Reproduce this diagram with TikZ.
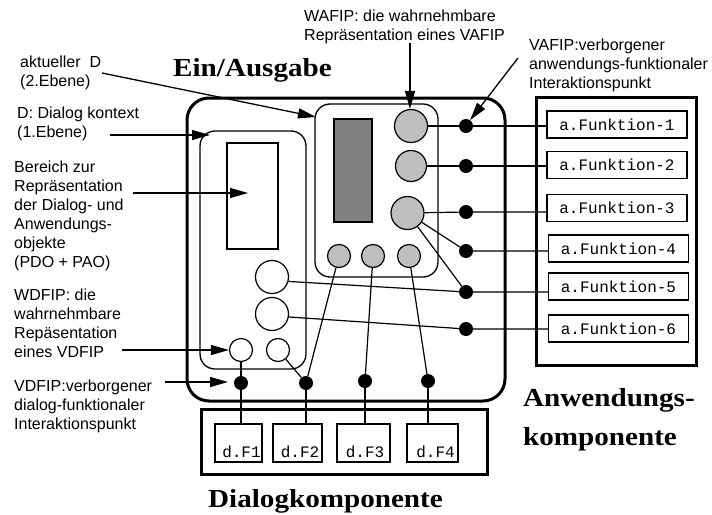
\documentclass[tikz,border=0pt]{standalone}
\usepackage{fontspec}
\setmainfont{Liberation Serif}
\newfontfamily\lblfont{Liberation Sans}
\newfontfamily\monofont{Liberation Mono}
\usetikzlibrary{arrows.meta}
\tikzset{
  thickbox/.style={draw, line width=3pt, inner sep=0pt},
  innerbox/.style={draw, line width=1.3pt, rounded corners=15pt, inner sep=0pt},
  plainbox/.style={draw, line width=1.3pt, inner sep=0pt},
  gcirc/.style={circle, draw, line width=1.2pt, fill=gray!50, inner sep=0pt},
  wcirc/.style={circle, draw, line width=1.2pt, fill=white, inner sep=0pt},
  vdot/.style={circle, fill=black, minimum size=14pt, inner sep=0pt},
  fbox/.style={draw, line width=1.3pt, font=\monofont\fontsize{16}{19}\selectfont, minimum width=140pt, minimum height=27pt, inner sep=0pt},
  dbox/.style={draw, line width=1.3pt, minimum height=38pt, inner sep=0pt},
  mono/.style={font=\monofont\fontsize{16}{19}\selectfont, inner sep=0pt},
  lbl/.style={font=\lblfont\fontsize{16}{19}\selectfont, align=left, anchor=north west, inner sep=0pt},
  title/.style={font=\bfseries\fontsize{26}{30}\selectfont, inner sep=0pt},
  conn/.style={line width=1.2pt},
  arr/.style={line width=1.3pt, -{Triangle[length=18pt,width=10pt]}},
}
\newcommand{\wide}[1]{\scalebox{1.12}[1]{#1}}
\begin{document}
\begin{tikzpicture}[x=1pt,y=-1pt]
\useasboundingbox (0,0) rectangle (712,514);

% main frames
\node[thickbox, rounded corners=22pt, minimum width=318pt, minimum height=303pt] (outer) at (346,249.5) {};
\node[innerbox, minimum width=106pt, minimum height=238pt] (dctx) at (253,250) {};
\node[plainbox, minimum width=51pt, minimum height=106pt] (repr) at (252.5,196) {};
\node[innerbox, minimum width=123pt, minimum height=173pt] (akt) at (376.5,190.5) {};
\node[draw, line width=1.2pt, fill=gray, minimum width=38pt, minimum height=103pt, inner sep=0pt] (dark) at (353,170.5) {};
\node[thickbox, minimum width=160pt, minimum height=268pt] (abox) at (616,231) {};
\node[thickbox, minimum width=286pt, minimum height=65pt] (dlgbox) at (344,441.5) {};

% function boxes
\node[fbox] (f1) at (617,124.5) {a.Funktion-1};
\node[fbox] (f2) at (617,165) {a.Funktion-2};
\node[fbox] (f3) at (617,208) {a.Funktion-3};
\node[fbox] (f4) at (618.5,248.5) {a.Funktion-4};
\node[fbox] (f5) at (618.5,286.5) {a.Funktion-5};
\node[fbox] (f6) at (618.5,328.5) {a.Funktion-6};

% dialog function boxes
\node[dbox, minimum width=47pt] (F1) at (238.5,443) {};
\node[dbox, minimum width=49pt] (F2) at (297.5,443) {};
\node[dbox, minimum width=53pt] (F3) at (363.5,443) {};
\node[dbox, minimum width=51pt] (F4) at (432.5,443) {};
\node[mono, anchor=base] (tF1) at (241.5,457) {d.F1};
\node[mono, anchor=base] (tF2) at (300,457) {d.F2};
\node[mono, anchor=base] (tF3) at (365,457) {d.F3};
\node[mono, anchor=base] (tF4) at (435.5,457) {d.F4};

% circles
\node[gcirc, minimum size=33pt] (g1) at (411,126) {};
\node[gcirc, minimum size=31pt] (g2) at (411,166) {};
\node[gcirc, minimum size=33pt] (g3) at (407.5,213) {};
\node[gcirc, minimum size=23pt] (b1) at (339,256) {};
\node[gcirc, minimum size=23pt] (b2) at (373,256) {};
\node[gcirc, minimum size=23pt] (b3) at (409,256) {};
\node[wcirc, minimum size=33pt] (w1) at (272,277) {};
\node[wcirc, minimum size=33pt] (w2) at (272,314) {};
\node[wcirc, minimum size=23pt] (sw1) at (241,350) {};
\node[wcirc, minimum size=23pt] (sw2) at (278,350) {};

% dots
\node[vdot] (d1) at (466,126) {};
\node[vdot] (d2) at (466,166) {};
\node[vdot] (d3) at (466,212) {};
\node[vdot] (d4) at (466,251) {};
\node[vdot] (d5) at (466,292) {};
\node[vdot] (d6) at (466,329) {};
\node[vdot] (e1) at (241,383) {};
\node[vdot] (e2) at (306,383) {};
\node[vdot] (e3) at (365,381) {};
\node[vdot] (e4) at (428,381) {};

% connectors
\draw[conn] (g1) -- (d1) -- (d1 -| f1.west);
\draw[conn] (g2) -- (d2) -- (d2 -| f2.west);
\draw[conn] (g3) -- (d3) -- (d3 -| f3.west);
\draw[conn] (g3) -- (d4) -- (d4 -| f4.west);
\draw[conn] (g3) -- (d5) -- (d5 -| f5.west);
\draw[conn] (w1.-15) -- (d5);
\draw[conn] (w2.-10) -- (d6) -- (d6 -| f6.west);
\draw[conn] (b1) -- (e2);
\draw[conn] (sw2) -- (e2);
\draw[conn] (b2) -- (e3);
\draw[conn] (b3) -- (e4);
\draw[conn] (sw1) -- (e1);
\draw[conn] (e1) -- (e1 |- F1.north);
\draw[conn] (e2) -- (e2 |- F2.north);
\draw[conn] (e3) -- (e3 |- F3.north);
\draw[conn] (e4) -- (e4 |- F4.north);

% titles
\node[title, anchor=base] (tein) at (252.5,76) {\wide{Ein/Ausgabe}};
\node[title, anchor=base west] (tanw1) at (523,406) {\wide{Anwendungs-}};
\node[title, anchor=base west] (tanw2) at (523,445) {\wide{komponente}};
\node[title, anchor=base] (tdlg) at (325.5,507) {\wide{Dialogkomponente}};

% labels
\node[lbl] (lakt) at (20,55.5) {aktueller\ \ D\\(2.Ebene)};
\node[lbl] (ldctx) at (17,106.5) {D: Dialog kontext\\(1.Ebene)};
\node[lbl] (lber) at (14,160.5) {Bereich zur\\Repräsentation\\der Dialog- und\\Anwendungs-\\objekte\\(PDO + PAO)};
\node[lbl] (lwdf) at (14,288.5) {WDFIP: die\\wahrnehmbare\\Repäsentation\\eines VDFIP};
\node[lbl] (lvdf) at (14,379.5) {VDFIP:verborgener\\dialog-funktionaler\\Interaktionspunkt};
\node[lbl] (lwaf) at (304,9.5) {WAFIP: die wahrnehmbare\\Repräsentation eines VAFIP};
\node[lbl] (lvaf) at (529,38.5) {VAFIP:verborgener\\anwendungs-funktionaler\\Interaktionspunkt};

% arrows
\coordinate (a1s) at (102,73);
\coordinate (a1e) at (316,117);
\coordinate (a2s) at (110,135);
\coordinate (a2e) at (210,135);
\coordinate (a3s) at (133,193);
\coordinate (a3e) at (248,193);
\coordinate (a4s) at (122,350);
\coordinate (a5s) at (165,382);
\coordinate (a5e) at (228,382);
\coordinate (a6s) at (410,43);
\coordinate (a7s) at (518,58);
\draw[arr] (a1s) -- (a1e);
\draw[arr] (a2s) -- (a2e);
\draw[arr] (a3s) -- (a3e);
\draw[arr] (a4s) -- (sw1.west);
\draw[arr] (a5s) -- (a5e);
\draw[arr] (a6s) -- (a6s |- g1.north);
\draw[arr] (a7s) -- (d1.55);
\end{tikzpicture}
\end{document}
